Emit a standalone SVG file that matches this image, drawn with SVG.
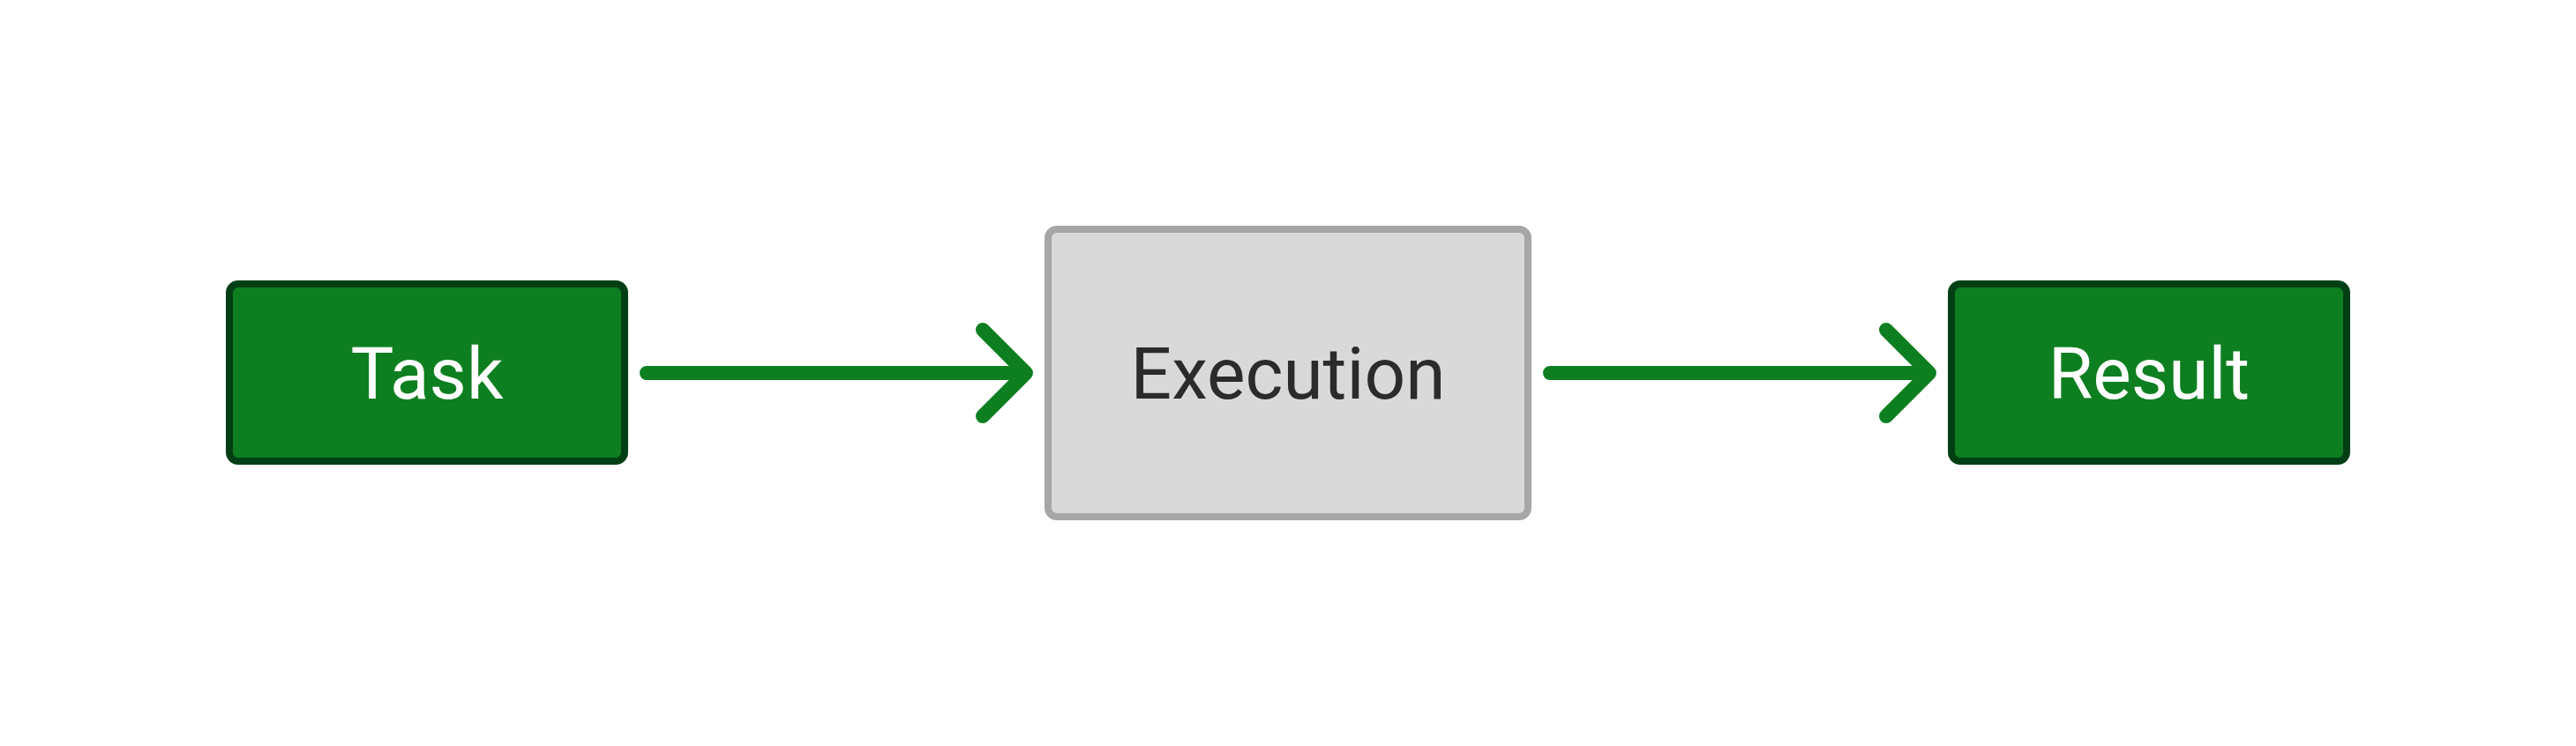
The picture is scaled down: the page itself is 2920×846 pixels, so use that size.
<svg xmlns="http://www.w3.org/2000/svg" width="2920" height="846" viewBox="0 0 2920 846">
<defs>
<style>
.term rect{fill:#0e7f20;stroke:#003f14;stroke-width:8}
.proc rect{fill:#d9d9d9;stroke:#a6a6a6;stroke-width:8}
text{font-family:Roboto,"Liberation Sans",sans-serif;font-size:82px;text-anchor:middle}
.term text{fill:#ffffff}
.proc text{fill:#2b2b2b}
.conn path{fill:none;stroke:#0e7f20;stroke-width:16;stroke-linecap:round;stroke-linejoin:round}
</style>
</defs>
<rect width="2920" height="846" fill="#ffffff"/>
<g id="connectors" class="conn">
<path d="M733 423H1163M1114 374L1163 423L1114 472"/>
<path d="M1757 423H2187M2138 374L2187 423L2138 472"/>
</g>
<g id="task" class="term">
<rect x="260" y="322" width="448" height="201" rx="10"/>
<text x="484" y="452">Task</text>
</g>
<g id="execution" class="proc">
<rect x="1188" y="260" width="544" height="326" rx="10"/>
<text x="1460" y="452">Execution</text>
</g>
<g id="result" class="term">
<rect x="2212" y="322" width="448" height="201" rx="10"/>
<text x="2436" y="452">Result</text>
</g>
</svg>
